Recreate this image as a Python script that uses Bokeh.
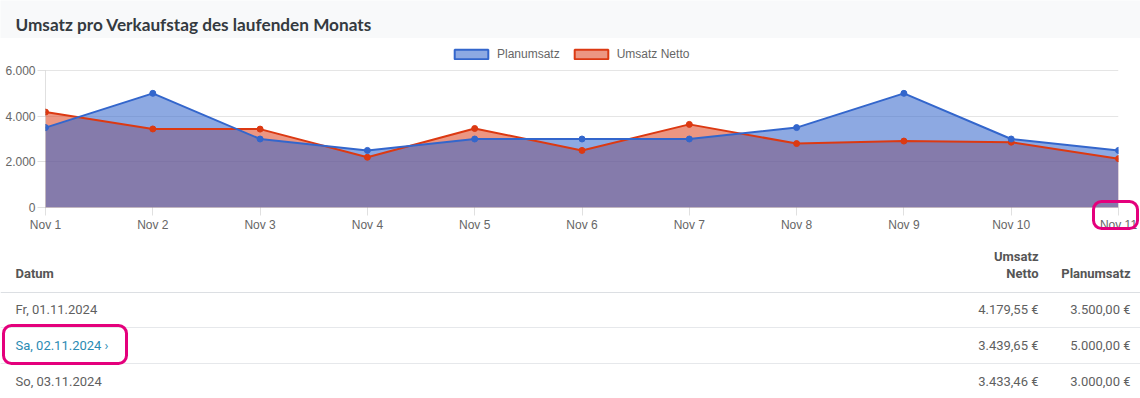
from bokeh.plotting import figure
from bokeh.models import Range1d, FixedTicker, Legend, LegendItem, BoxAnnotation
from bokeh.embed import file_html
from bokeh.resources import INLINE
from bokeh.core.properties import value

# ---------------- data ----------------
TITLE = "Umsatz pro Verkaufstag des laufenden Monats"
days = ["Nov 1", "Nov 2", "Nov 3", "Nov 4", "Nov 5", "Nov 6",
        "Nov 7", "Nov 8", "Nov 9", "Nov 10", "Nov 11"]
planumsatz = [3500, 5000, 3000, 2500, 3000, 3000, 3000, 3500, 5000, 3000, 2500]
umsatz_netto = [4179.55, 3439.65, 3433.46, 2200, 3460, 2500, 3640, 2800, 2910, 2860, 2140]
series_names = ["Planumsatz", "Umsatz Netto"]
y_ticks = [0, 2000, 4000, 6000]
y_tick_labels = ["0", "2.000", "4.000", "6.000"]
table_dates = ["Fr, 01.11.2024", "Sa, 02.11.2024", "So, 03.11.2024"]
table_headers = ["Datum", "Umsatz", "Netto", "Planumsatz"]
link_row = 1

# ---------------- styles ----------------
W = 1140
BLUE = "#3366cc"
RED = "#dc3912"
AX_FONT = "Liberation Sans"
TB_FONT = "Roboto"
TXT = "#666666"
MAGENTA = "#e4007c"
NAN = float("nan")


def de_eur(v):
    s = f"{v:,.2f}"
    s = s.replace(",", "X").replace(".", ",").replace("X", ".")
    return s + " €"


# ---------------- header ----------------
hdr = figure(width=W, height=38, x_range=Range1d(0, W), y_range=Range1d(38, 0),
             x_axis_location=None, y_axis_location=None, output_backend="svg",
             toolbar_location=None, min_border=0)
hdr.grid.visible = False
hdr.outline_line_color = None
hdr.background_fill_color = "#f8f9fa"
hdr.border_fill_color = "#f8f9fa"
hdr.text(x=[15], y=[24], text=[TITLE], text_font=value("Lato"), text_font_size="17.2px",
         text_font_style="bold", text_color="#343a40", text_baseline="alphabetic")
hdr.hspan(y=[37.5], line_color="#dee2e6", line_width=1)

# ---------------- chart ----------------
# the frame starts 25px above the 6.000 line so that the legend fits inside it
FRAME_TOP, Y_TOP, Y_ZERO = 45, 70, 207
y_max = y_ticks[-1] * (Y_ZERO - FRAME_TOP) / (Y_ZERO - Y_TOP)
xs = list(range(len(days)))
ch = figure(width=W, height=202, x_range=Range1d(0, len(days) - 1), y_range=Range1d(0, y_max),
            output_backend="svg", toolbar_location=None,
            min_border_top=FRAME_TOP - 38, min_border_bottom=240 - Y_ZERO,
            min_border_left=45, min_border_right=22)
ch.outline_line_color = None
ch.background_fill_color = "white"
ch.border_fill_color = "white"

ch.varea(x=xs, y1=0, y2=umsatz_netto, fill_color=RED, fill_alpha=0.53)
ch.varea(x=xs, y1=0, y2=planumsatz, fill_color=BLUE, fill_alpha=0.56)
ch.line(xs, umsatz_netto, line_color=RED, line_width=2)
ch.scatter(xs, umsatz_netto, size=6, fill_color=RED, line_color=RED)
ch.line(xs, planumsatz, line_color=BLUE, line_width=2)
ch.scatter(xs, planumsatz, size=6, fill_color=BLUE, line_color=BLUE)

ch.xaxis.ticker = FixedTicker(ticks=xs)
ch.xaxis.major_label_overrides = {i: d for i, d in enumerate(days)}
ch.yaxis.ticker = FixedTicker(ticks=y_ticks)
ch.yaxis.major_label_overrides = {t: l for t, l in zip(y_ticks, y_tick_labels)}
ch.yaxis.bounds = (y_ticks[0], y_ticks[-1])
for ax in (ch.xaxis[0], ch.yaxis[0]):
    ax.axis_line_color = "black"
    ax.axis_line_alpha = 0.12
    ax.major_tick_line_color = "black"
    ax.major_tick_line_alpha = 0.12
    ax.minor_tick_line_color = None
    ax.major_tick_in = 0
    ax.major_tick_out = 8
    ax.major_label_standoff = 2
    ax.major_label_text_font = AX_FONT
    ax.major_label_text_font_size = "12px"
    ax.major_label_text_color = TXT
ch.xgrid.visible = False
ch.ygrid.grid_line_color = "black"
ch.ygrid.grid_line_alpha = 0.1

# legend swatches (bordered boxes); the quads hold no drawable coordinates
leg_plan = ch.quad(left=[NAN], right=[NAN], top=[NAN], bottom=[NAN], fill_color=BLUE,
                   fill_alpha=0.56, line_color=BLUE, line_width=2)
leg_netto = ch.quad(left=[NAN], right=[NAN], top=[NAN], bottom=[NAN], fill_color=RED,
                    fill_alpha=0.53, line_color=RED, line_width=2)
legend = Legend(items=[LegendItem(label=series_names[0], renderers=[leg_plan]),
                       LegendItem(label=series_names[1], renderers=[leg_netto])],
                orientation="horizontal", location=(405, Y_ZERO - 61),
                glyph_width=42, glyph_height=12, label_height=12, label_width=10,
                label_standoff=5, spacing=10, padding=0, margin=0,
                border_line_color=None, background_fill_alpha=0,
                label_text_font=AX_FONT, label_text_font_size="12px",
                label_text_color=TXT)
ch.add_layout(legend)

# ---------------- table (overlaps the chart's bottom edge, transparent) ----------------
TOP = 196
TH = 398 - TOP
tb = figure(width=W, height=TH, x_range=Range1d(0, W), y_range=Range1d(398, TOP),
            x_axis_location=None, y_axis_location=None, output_backend="svg",
            toolbar_location=None, min_border=0)
tb.styles = {"margin-top": f"-{240 - TOP}px"}
tb.grid.visible = False
tb.outline_line_color = None
tb.background_fill_color = None
tb.border_fill_color = None

row_y = [309 + 36 * i for i in range(len(table_dates))]
HDR_COL = "#555555"
BODY_COL = "#5f5f5f"
LINK_COL = "#2a8bb3"

tb.text(x=[15, 1038, 1038, 1130], y=[273, 256, 273, 273], text=table_headers,
        text_align=["left", "right", "right", "right"], text_baseline="middle",
        text_font=value(TB_FONT), text_font_size="13px", text_font_style="bold",
        text_color=HDR_COL)
tb.hspan(y=[292], line_color="#dcdfe3", line_width=1)
tb.hspan(y=[y + 18 for y in row_y[:-1]], line_color="#e6e8eb", line_width=1)

date_texts = [d + (" \u203a" if i == link_row else "") for i, d in enumerate(table_dates)]
date_cols = [LINK_COL if i == link_row else BODY_COL for i in range(len(table_dates))]
tb.text(x=[15] * len(row_y), y=row_y, text=date_texts, text_color=date_cols,
        text_align="left", text_baseline="middle", text_font=value(TB_FONT),
        text_font_size="13px")
tb.text(x=[1038] * len(row_y), y=row_y,
        text=[de_eur(v) for v in umsatz_netto[:len(row_y)]], text_color=BODY_COL,
        text_align="right", text_baseline="middle", text_font=value(TB_FONT),
        text_font_size="13px")
tb.text(x=[1130] * len(row_y), y=row_y,
        text=[de_eur(v) for v in planumsatz[:len(row_y)]], text_color=BODY_COL,
        text_align="right", text_baseline="middle", text_font=value(TB_FONT),
        text_font_size="13px")

# magenta highlight frames (screenshot markup)
for l, r, t, b in [(3, 126, 325, 363), (1093, 1137, 201, 228)]:
    tb.add_layout(BoxAnnotation(left=l, right=r, top=t - TOP, bottom=b - TOP,
                                left_units="canvas", right_units="canvas",
                                top_units="canvas", bottom_units="canvas",
                                fill_color=None, line_color=MAGENTA, line_alpha=1,
                                line_width=3, border_radius=8))

open("out.html", "w").write(file_html([hdr, ch, tb], INLINE))
